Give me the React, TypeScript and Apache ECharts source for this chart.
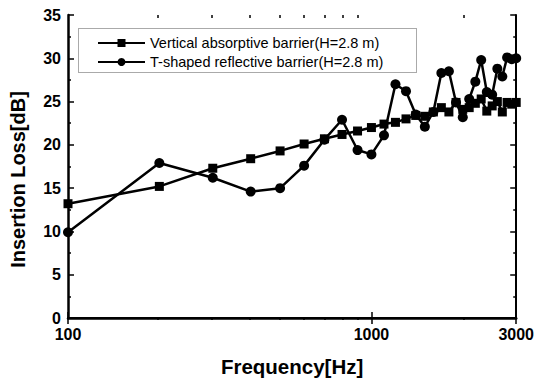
import React, { useEffect, useRef } from "react";
import * as echarts from "echarts";

const frequencies = [
  100, 200, 300, 400, 500, 600, 700, 800, 900, 1000,
  1100, 1200, 1300, 1400, 1500, 1600, 1700, 1800, 1900, 2000,
  2100, 2200, 2300, 2400, 2500, 2600, 2700, 2800, 2900, 3000,
];
const verticalAbsorptive = [
  13.2, 15.2, 17.3, 18.4, 19.3, 20.1, 20.7, 21.2, 21.6, 22.0,
  22.4, 22.6, 23.0, 23.4, 23.3, 23.8, 24.3, 23.8, 24.9, 24.1,
  24.3, 24.8, 25.3, 23.9, 24.5, 25.0, 23.8, 24.9, 24.7, 24.9,
];
const tShapedReflective = [
  9.9, 17.9, 16.2, 14.6, 15.0, 17.6, 20.6, 22.9, 19.4, 18.9,
  21.1, 27.0, 26.2, 23.5, 22.1, 23.8, 28.3, 28.5, 24.9, 23.2,
  25.3, 27.3, 29.8, 26.1, 25.8, 28.8, 27.9, 30.1, 29.9, 30.0,
];
const seriesNames = [
  "Vertical absorptive barrier(H=2.8 m)",
  "T-shaped reflective barrier(H=2.8 m)",
];
const xLabelValues = [100, 1000, 3000];
const xMajorTicks = [100, 1000, 3000];
const xMinorTicks = [200, 300, 400, 500, 600, 700, 800, 900, 2000];
const yTickInterval = 5;
const yMin = 0;
const yMax = 35;
const xTitle = "Frequency[Hz]";
const yTitle = "Insertion Loss[dB]";

const L = (v: number) => Math.log10(v);
const FONT = "'Liberation Sans', Arial, Helvetica, sans-serif";

export default function App() {
  const ref = useRef<HTMLDivElement>(null);
  useEffect(() => {
    if (!ref.current) return;
    const chart = echarts.init(ref.current, null, { renderer: "svg" });
    const xMin = L(frequencies[0]);
    const xMax = L(3000);
    const gridRect = { left: 66, right: 19, top: 15, bottom: 62 };
    const black = "#000";
    const labelStyle = {
      fontSize: 16,
      fontWeight: "bold" as const,
      color: black,
      fontFamily: FONT,
    };
    const baseX = {
      type: "value" as const,
      min: xMin,
      max: xMax,
      splitLine: { show: false },
    };
    chart.setOption({
      animation: false,
      backgroundColor: "#fff",
      grid: [
        { ...gridRect },
        { ...gridRect },
      ],
      graphic: [
        {
          type: "rect",
          left: 76,
          top: 26,
          shape: { width: 338, height: 44 },
          style: { fill: "none", stroke: "#555", lineWidth: 1, lineDash: [1, 1] },
          z: 10,
        },
      ],
      legend: {
        orient: "vertical",
        left: 92,
        top: 30,
        itemWidth: 47,
        itemHeight: 10,
        itemGap: 3,
        data: seriesNames,
        textStyle: { fontSize: 14.5, color: black, fontFamily: FONT, lineHeight: 16 },
      },
      xAxis: [
        {
          ...baseX,
          gridIndex: 0,
          position: "bottom",
          axisLine: { show: true, lineStyle: { color: black, width: 2.5 } },
          axisTick: {
            show: true,
            inside: true,
            length: 6,
            customValues: xMajorTicks.map(L),
            lineStyle: { color: black, width: 1.5 },
          },
          axisLabel: {
            show: true,
            customValues: xLabelValues.map(L),
            formatter: (v: number) => String(Math.round(Math.pow(10, v))),
            margin: 8,
            ...labelStyle,
          },
          name: xTitle,
          nameLocation: "middle",
          nameGap: 38,
          nameTextStyle: { fontSize: 20.5, fontWeight: "bold", color: black, fontFamily: FONT },
        },
        {
          ...baseX,
          gridIndex: 0,
          position: "top",
          axisLine: { show: true, lineStyle: { color: black, width: 2 } },
          axisTick: {
            show: true,
            inside: true,
            length: 6,
            customValues: xMajorTicks.map(L),
            lineStyle: { color: black, width: 1.5 },
          },
          axisLabel: { show: false },
        },
        {
          ...baseX,
          gridIndex: 1,
          position: "bottom",
          axisLine: { show: false },
          axisTick: {
            show: true,
            inside: true,
            length: 3,
            customValues: xMinorTicks.map(L),
            lineStyle: { color: black, width: 1.5 },
          },
          axisLabel: { show: false },
        },
        {
          ...baseX,
          gridIndex: 1,
          position: "top",
          axisLine: { show: false },
          axisTick: {
            show: true,
            inside: true,
            length: 3,
            customValues: xMinorTicks.map(L),
            lineStyle: { color: black, width: 1.5 },
          },
          axisLabel: { show: false },
        },
      ],
      yAxis: [
        {
          type: "value",
          gridIndex: 0,
          position: "left",
          min: yMin,
          max: yMax,
          interval: yTickInterval,
          splitLine: { show: false },
          axisLine: { show: true, lineStyle: { color: black, width: 2.5 } },
          axisTick: { show: true, inside: true, length: 6, lineStyle: { color: black, width: 1.5 } },
          minorTick: { show: true, splitNumber: 2, length: 3, lineStyle: { color: black, width: 1.5 } },
          axisLabel: { show: true, margin: 7, ...labelStyle },
          name: yTitle,
          nameLocation: "middle",
          nameGap: 40,
          nameRotate: 90,
          nameTextStyle: {
            fontSize: 20,
            fontWeight: "bold",
            color: black,
            fontFamily: FONT,
            padding: [0, 26, 0, 0],
          },
        },
        {
          type: "value",
          gridIndex: 0,
          position: "right",
          min: yMin,
          max: yMax,
          interval: yTickInterval,
          splitLine: { show: false },
          axisLine: { show: true, lineStyle: { color: black, width: 2 } },
          axisTick: { show: true, inside: true, length: 6, lineStyle: { color: black, width: 1.5 } },
          minorTick: { show: true, splitNumber: 2, length: 3, lineStyle: { color: black, width: 1.5 } },
          axisLabel: { show: false },
        },
        {
          type: "value",
          gridIndex: 1,
          min: yMin,
          max: yMax,
          show: false,
        },
      ],
      series: [
        {
          type: "line",
          name: seriesNames[0],
          xAxisIndex: 0,
          yAxisIndex: 0,
          data: frequencies.map((f, i) => [L(f), verticalAbsorptive[i]]),
          symbol: "rect",
          symbolSize: 9,
          showAllSymbol: true,
          lineStyle: { color: black, width: 2.5 },
          itemStyle: { color: black },
          z: 3,
        },
        {
          type: "line",
          name: seriesNames[1],
          xAxisIndex: 0,
          yAxisIndex: 0,
          data: frequencies.map((f, i) => [L(f), tShapedReflective[i]]),
          symbol: "circle",
          symbolSize: 10,
          showAllSymbol: true,
          lineStyle: { color: black, width: 2.5 },
          itemStyle: { color: black },
          z: 4,
        },
      ],
    });
    return () => chart.dispose();
  }, []);
  return (
    <div
      ref={ref}
      style={{ position: "fixed", left: 0, top: 0, width: 537, height: 382 }}
    />
  );
}
